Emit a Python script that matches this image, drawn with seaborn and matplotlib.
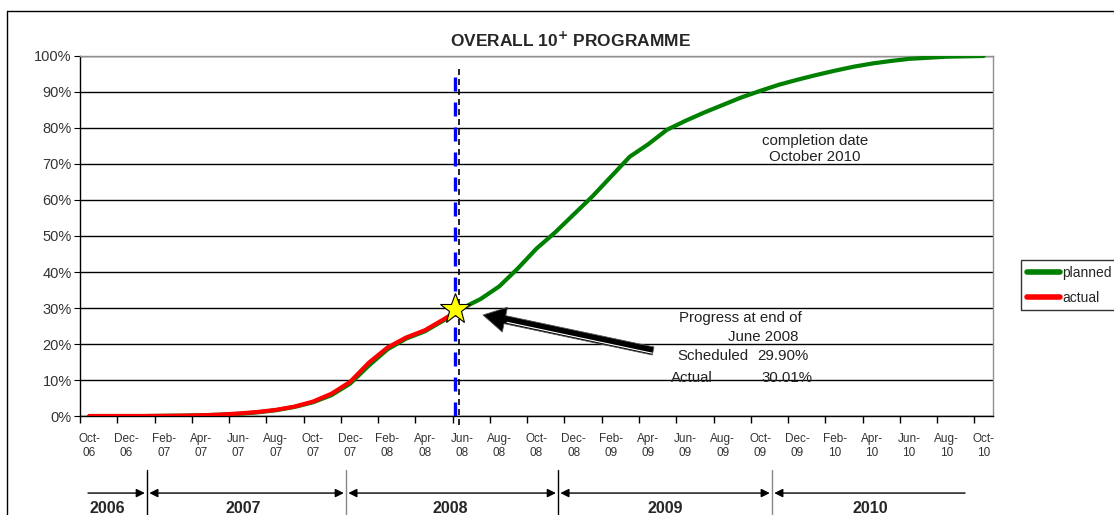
# ==========================================
# OVERALL 10+ PROGRAMME - PLANNED VS ACTUAL
# ==========================================

import numpy as np
import pandas as pd
import matplotlib
matplotlib.use("Agg")
import matplotlib.pyplot as plt
import matplotlib.transforms as mtransforms
from matplotlib.lines import Line2D
import seaborn as sns

# ==========================================
# DATA (monthly, Oct-06 .. Oct-10)
# ==========================================

tick_labels = [
    "Oct-\n06", "Dec-\n06", "Feb-\n07", "Apr-\n07", "Jun-\n07", "Aug-\n07",
    "Oct-\n07", "Dec-\n07", "Feb-\n08", "Apr-\n08", "Jun-\n08", "Aug-\n08",
    "Oct-\n08", "Dec-\n08", "Feb-\n09", "Apr-\n09", "Jun-\n09", "Aug-\n09",
    "Oct-\n09", "Dec-\n09", "Feb-\n10", "Apr-\n10", "Jun-\n10", "Aug-\n10",
    "Oct-\n10",
]

# planned cumulative progress, %
planned = [
    0.0, 0.0, 0.0, 0.0, 0.05, 0.1, 0.2, 0.35, 0.6, 1.0,
    1.6, 2.5, 3.8, 5.8, 9.0, 14.0, 18.5, 21.5, 23.5, 26.5,
    29.9, 32.5, 36.0, 41.0, 46.5, 51.0, 56.0, 61.0, 66.5, 72.0,
    75.5, 79.5, 82.0, 84.3, 86.4, 88.5, 90.3, 92.0, 93.4, 94.7,
    95.9, 97.0, 97.9, 98.6, 99.2, 99.5, 99.8, 99.9, 100.0,
]

# actual cumulative progress, %
actual = [
    0.0, 0.0, 0.0, 0.0, 0.05, 0.1, 0.2, 0.4, 0.7, 1.1,
    1.7, 2.6, 4.0, 6.2, 9.5, 14.8, 19.0, 21.8, 23.8, 26.8,
    30.01,
]

scheduled_pct = 29.90
actual_pct = 30.01
report_x = 20.15          # end of June 2008 marker

year_labels = ["2006", "2007", "2008", "2009", "2010"]
year_label_x = [1.45, 8.75, 19.86, 31.4, 42.4]
year_breaks = [3.6, 14.28, 25.66, 37.14]
timeline_span = [0.43, 47.5]

# ==========================================
# STYLE
# ==========================================

sns.set_style("white")
plt.rcParams["font.family"] = ["Liberation Sans", "DejaVu Sans"]

fig = plt.figure(figsize=(11.14, 5.15), dpi=100)
ax = fig.add_axes([80 / 1114, 0.1922, 913 / 1114, 0.6991])

# ==========================================
# LINES
# ==========================================

df_plan = pd.DataFrame({"month": np.arange(len(planned)) + 0.5, "pct": planned})
df_act = pd.DataFrame({"month": np.arange(len(actual)) + 0.5, "pct": actual})

sns.lineplot(data=df_plan, x="month", y="pct", color="#008000",
             linewidth=3, label="planned", ax=ax, zorder=3)
sns.lineplot(data=df_act, x="month", y="pct", color="#ff0000",
             linewidth=3, label="actual", ax=ax, zorder=4)

# report date lines
ax.axvline(report_x, ymin=0, ymax=0.968, color="#0000ff", linewidth=2.4,
           dashes=(4.2, 3.3), zorder=5)
ax.axvline(report_x + 0.18, ymin=-0.025, ymax=0.975, color="black",
           linewidth=1.2, dashes=(3.6, 2.4), zorder=5, clip_on=False)

ax.plot(report_x - 0.05, actual[-1] - 0.4, marker="*", markersize=23,
        markerfacecolor="#ffff00", markeredgecolor="black",
        markeredgewidth=0.8, zorder=7)

# ==========================================
# AXES
# ==========================================

ax.set_xlim(0, 49)
ax.set_ylim(0, 100)
ax.set_xlabel("")
ax.set_ylabel("")

ax.set_xticks(np.arange(0, 49, 2))
ax.set_xticklabels([])
ax.set_xticks(np.arange(0, 49, 2) + 0.5, minor=True)
ax.set_xticklabels(tick_labels, minor=True, linespacing=1.25)
ax.tick_params(axis="x", which="major", bottom=True, length=5,
               direction="out", color="black", width=1)
ax.tick_params(axis="x", which="minor", bottom=True, length=0, pad=12,
               labelsize=8.5, labelcolor="#333333")

yticks = list(range(0, 101, 10))
ax.set_yticks(yticks)
ax.set_yticklabels([f"{v}%" for v in yticks])
ax.tick_params(axis="y", left=True, length=4, direction="out",
               color="black", labelsize=10.5, pad=2, labelcolor="#333333")

ax.grid(axis="y", color="black", linewidth=1)
ax.grid(axis="x", visible=False)
ax.set_axisbelow(True)

for side in ["left", "bottom"]:
    ax.spines[side].set_color("black")
    ax.spines[side].set_linewidth(1)
for side in ["top", "right"]:
    ax.spines[side].set_color("#909090")
    ax.spines[side].set_linewidth(1)

# ==========================================
# TEXT AND ANNOTATIONS
# ==========================================

fig.text(570 / 1114, 1 - 40 / 515, r"OVERALL 10$^{\mathbf{+}}$ PROGRAMME",
         ha="center", va="center", fontsize=12.5, fontweight="bold")

ax.text(39.45, 74.2, "completion date\nOctober 2010", ha="center",
        va="center", fontsize=10.8, linespacing=1.15, color="#222222")

note_kw = dict(va="center", fontsize=10.8, color="#222222")
ax.text(32.15, 27.2, "Progress at end of", ha="left", **note_kw)
ax.text(38.54, 21.9, "June 2008", ha="right", **note_kw)
ax.text(32.05, 16.7, "Scheduled", ha="left", **note_kw)
ax.text(39.08, 16.7, f"{scheduled_pct:.2f}%", ha="right", **note_kw)
ax.text(31.72, 10.6, "Actual", ha="left", **note_kw)
ax.text(39.29, 10.6, f"{actual_pct:.2f}%", ha="right", **note_kw)

arrow_tip = (21.63, 28.05)
arrow_tail = (30.76, 18.06)
ax.annotate("", xy=arrow_tip, xytext=arrow_tail,
            arrowprops=dict(
                arrowstyle="simple,head_length=1.15,head_width=1.3,tail_width=0.42",
                mutation_scale=14, fc="black", ec="#555555", lw=0.6,
                shrinkA=0, shrinkB=0),
            zorder=6)
# white highlight stripe along the shaft (3D look of the original arrow)
stripe_tr = mtransforms.offset_copy(ax.transData, fig=fig, x=0, y=-2.2,
                                    units="dots")
ax.plot([arrow_tail[0] - 0.05, 22.9], [arrow_tail[1], 26.65], color="white",
        linewidth=0.8, transform=stripe_tr, zorder=6.5,
        solid_capstyle="butt")

# ==========================================
# YEAR TIMELINE BELOW AXIS
# ==========================================

blend = mtransforms.blended_transform_factory(ax.transData, ax.transAxes)
y_line = -0.214

seg_edges = [timeline_span[0]] + year_breaks + [timeline_span[1]]
for i in range(len(year_labels)):
    x0 = seg_edges[i] + (0.12 if i > 0 else 0)
    x1 = seg_edges[i + 1] - (0.12 if i < len(year_labels) - 1 else 0)
    if i == 0:
        style = "-|>"
    elif i == len(year_labels) - 1:
        style = "<|-"
    else:
        style = "<|-|>"
    ax.annotate("", xy=(x1, y_line), xytext=(x0, y_line),
                xycoords=blend, textcoords=blend, annotation_clip=False,
                arrowprops=dict(arrowstyle=style + ",head_length=0.5,head_width=0.25",
                                color="black", lw=1, shrinkA=0, shrinkB=0))

for j, xb in enumerate(year_breaks):
    ax.add_line(Line2D([xb, xb], [-0.15, -0.3], transform=blend,
                       color="black" if j % 2 == 0 else "#888888",
                       linewidth=1, clip_on=False))

for lab, xl in zip(year_labels, year_label_x):
    ax.text(xl, -0.257, lab, transform=blend, ha="center", va="center",
            fontsize=11.5, fontweight="bold")

# ==========================================
# LEGEND AND CHART BORDER
# ==========================================

handles, labels = ax.get_legend_handles_labels()
leg = ax.legend(handles, labels, loc="upper left",
                bbox_to_anchor=(1021 / 1114, 1 - 260 / 515),
                bbox_transform=fig.transFigure, frameon=True, fancybox=False,
                edgecolor="black", fontsize=10, handlelength=2.4,
                handletextpad=0.15, borderpad=0.4, labelspacing=0.8,
                borderaxespad=0)
leg.get_frame().set_linewidth(1)
for line in leg.get_lines():
    line.set_linewidth(4)

fig.add_artist(Line2D([7 / 1114, 7 / 1114], [0, 1 - 11 / 515],
                      transform=fig.transFigure, color="black", linewidth=1))
fig.add_artist(Line2D([7 / 1114, 1], [1 - 11 / 515, 1 - 11 / 515],
                      transform=fig.transFigure, color="black", linewidth=1))

fig.savefig("out.png", dpi=100)
